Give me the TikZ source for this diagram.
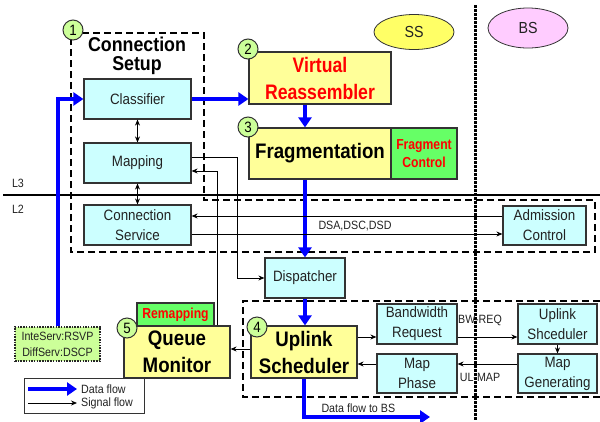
\documentclass[tikz,border=0pt]{standalone}
\usepackage{fontspec}
\setmainfont{Liberation Sans}[FakeStretch=0.89]
\newfontfamily\narrowsans{Liberation Sans}[FakeStretch=0.84]
\usetikzlibrary{arrows.meta,calc,shapes.geometric}

\definecolor{boxcyan}{HTML}{CCFFFF}
\definecolor{boxyellow}{HTML}{FFFF99}
\definecolor{boxgreen}{HTML}{66FF66}
\definecolor{numgreen}{HTML}{CCFF99}
\definecolor{ssyellow}{HTML}{FFFF66}
\definecolor{bspink}{HTML}{FFCCFF}
\definecolor{edge}{HTML}{333333}
\definecolor{txt}{HTML}{222222}

\tikzset{
  cbox/.style={draw=edge, line width=1.2pt, fill=boxcyan, inner sep=0pt, align=center,
    text=txt, font=\fontsize{15}{20}\selectfont},
  ybox/.style={draw=edge, line width=1.2pt, fill=boxyellow, inner sep=0pt, align=center,
    font=\fontsize{21}{27}\selectfont\bfseries},
  gbox/.style={draw=edge, line width=1.2pt, fill=boxgreen, inner sep=0pt, align=center,
    text=red, font=\narrowsans\fontsize{14.5}{18}\selectfont\bfseries},
  num/.style={circle, draw=edge, line width=1pt, fill=numgreen, minimum size=20pt,
    inner sep=0pt, font=\fontsize{15}{15}\selectfont},
  dataflow/.style={draw=blue, line width=4pt, -{Triangle[length=10pt,width=13pt]}},
  sig/.style={draw=black, line width=0.8pt, -{Stealth[length=6pt,width=5pt]}},
  dsig/.style={draw=black, line width=0.8pt, {Stealth[length=6pt,width=5pt]}-{Stealth[length=6pt,width=5pt]}},
  dashbox/.style={draw=black, line width=1.8pt, dash pattern=on 7pt off 4pt},
  small/.style={text=txt, font=\fontsize{12}{16}\selectfont},
}

\begin{document}
\begin{tikzpicture}[x=1pt, y=-1pt]
\useasboundingbox (0,0) rectangle (600,421);

% SS / BS markers
\node[ellipse, draw=edge, line width=0.8pt, fill=ssyellow, minimum width=80pt, minimum height=35pt,
  inner sep=0pt, text=txt, font=\fontsize{16}{16}\selectfont] (ss) at (414,32) {SS};
\node[ellipse, draw=edge, line width=0.8pt, fill=bspink, minimum width=80pt, minimum height=40pt,
  inner sep=0pt, text=txt, font=\fontsize{16}{16}\selectfont] (bs) at (528,28) {BS};

% SS / BS boundary
\draw[line width=3pt, dash pattern=on 2.5pt off 1.5pt] (475,5) -- (475,421);

% connection setup region
\draw[dashbox] (71,33) -- (204,33) -- (204,200) -- (595,200) -- (595,252) -- (71,252) -- cycle;
% uplink scheduling region
\draw[dashbox] (600,301) -- (243,301) -- (243,397) -- (600,397);

% layer boundary
\draw[line width=2.5pt] (3,195) -- (600,195);
\node[small, anchor=center] (l3) at (18,183) {L3};
\node[small, anchor=center] (l2) at (18,209) {L2};

% title of the connection setup region
\node[font=\fontsize{20}{19.5}\selectfont\bfseries, align=center, inner sep=0pt] (cstitle) at (137,56) {Connection\\Setup};

% boxes
\node[cbox, minimum width=107pt, minimum height=40pt] (classifier) at (137.5,99) {Classifier};
\node[cbox, minimum width=107pt, minimum height=40pt] (mapping) at (137.5,163) {Mapping};
\node[cbox, minimum width=107pt, minimum height=40pt] (connsvc) at (137.5,225) {Connection\\Service};
\node[cbox, minimum width=83pt, minimum height=39pt] (admission) at (544.5,225.5) {Admission\\Control};
\node[cbox, minimum width=80pt, minimum height=40pt] (dispatcher) at (305,278) {Dispatcher};
\node[cbox, minimum width=80pt, minimum height=40pt] (bwreq) at (417,324) {Bandwidth\\Request};
\node[cbox, minimum width=80pt, minimum height=39pt] (mapphase) at (417,373.5) {Map\\Phase};
\node[cbox, minimum width=79pt, minimum height=40pt] (ulsched) at (557.5,324) {Uplink\\Shceduler};
\node[cbox, minimum width=79pt, minimum height=39pt] (mapgen) at (557.5,373.5) {Map\\Generating};

\node[ybox, minimum width=142pt, minimum height=52pt, text=red,
  font=\narrowsans\fontsize{21}{27}\selectfont\bfseries] (vr) at (320,78) {Virtual\\Reassembler};
\node[ybox, minimum width=142pt, minimum height=51pt] (frag) at (320,153.5) {Fragmentation};
\node[gbox, minimum width=66pt, minimum height=51pt] (fragctl) at (424,153.5) {Fragment\\Control};
\node[ybox, minimum width=106pt, minimum height=52pt] (uplink) at (304,352) {Uplink\\Scheduler};
\node[ybox, minimum width=106pt, minimum height=52pt] (queue) at (177,352) {Queue\\Monitor};
\node[gbox, minimum width=77pt, minimum height=23pt] (remap) at (175.5,314.5) {Remapping};

\node[draw=black!85, line width=1.8pt, dash pattern=on 1.5pt off 1.2pt, fill=numgreen, inner sep=0pt,
  minimum width=85pt, minimum height=34pt, align=center, text=txt,
  font=\fontsize{12}{16}\selectfont] (inteserv) at (57.5,344) {InteServ:RSVP\\DiffServ:DSCP};

% data flow
\draw[dataflow] (inteserv.north) |- (classifier.west);
\draw[dataflow] (classifier.east) -- (classifier.east -| vr.west);
\draw[dataflow] (vr.south -| dispatcher.north) -- (frag.north -| dispatcher.north);
\draw[dataflow] (frag.south -| dispatcher.north) -- (dispatcher.north);
\draw[dataflow] (dispatcher.south) -- (uplink.north -| dispatcher.south);
\coordinate (tobs) at (430,417);
\draw[dataflow] (uplink.south) |- (tobs);
\node[small, anchor=west] (tobslabel) at (318,408) {Data flow to BS};

% signal flow
\draw[dsig] (classifier.south) -- (mapping.north);
\draw[dsig] (mapping.south) -- (connsvc.north);
\draw[sig] ($(mapping.east)+(0,-6)$) -| ($(dispatcher.west)+(-27,0)$) -- (dispatcher.west);
\draw[sig] ($(queue.north)+(40,0)$) |- ($(mapping.east)+(0,8)$);
\path ($(admission.west)+(0,-9.5)$) coordinate (acin);
\draw[sig] (acin) -- (acin -| connsvc.east);
\path ($(connsvc.east)+(0,9)$) coordinate (csout);
\draw[sig] (csout) -- (csout -| admission.west);
\node[small] (dsa) at (355,226) {DSA,DSC,DSD};

\path ($(bwreq.west)+(0,13)$) coordinate (bwin);
\draw[sig] (bwin -| uplink.east) -- (bwin);
\path ($(mapphase.west)+(0,-9.5)$) coordinate (mpout);
\draw[sig] (mpout) -- (mpout -| uplink.east);
\path ($(bwreq.east)+(0,13)$) coordinate (bwout);
\draw[sig] (bwout) -- (bwout -| ulsched.west);
\node[small] (bwlabel) at (480,320) {BW-REQ};
\draw[sig] (ulsched.south) -- (mapgen.north);
\path ($(mapgen.west)+(0,-9.5)$) coordinate (mgout);
\draw[sig] (mgout) -- (mgout -| mapphase.east);
\node[small] (ulmap) at (480,377) {UL-MAP};
\path ($(uplink.west)+(0,-3)$) coordinate (upout);
\draw[sig] (upout) -- (upout -| queue.east);

% step numbers
\node[num] (n1) at (73,30) {1};
\node[num] (n2) at (248,49) {2};
\node[num] (n3) at (248,127) {3};
\node[num] (n4) at (257,327) {4};
\node[num] (n5) at (127,328) {5};

% legend
\node[draw=edge, line width=1pt, fill=white, minimum width=120pt, minimum height=35pt, inner sep=0pt] (legend) at (84,395.5) {};
\coordinate (dfa) at (28,389);
\coordinate (dfb) at (77,389);
\coordinate (sfa) at (28,403);
\coordinate (sfb) at (77,403);
\draw[dataflow] (dfa) -- (dfb);
\draw[sig] (sfa) -- (sfb);
\node[small, anchor=west, inner sep=1pt] (dflabel) at (80,389) {Data flow};
\node[small, anchor=west, inner sep=1pt] (sflabel) at (80,403) {Signal flow};
\end{tikzpicture}
\end{document}
